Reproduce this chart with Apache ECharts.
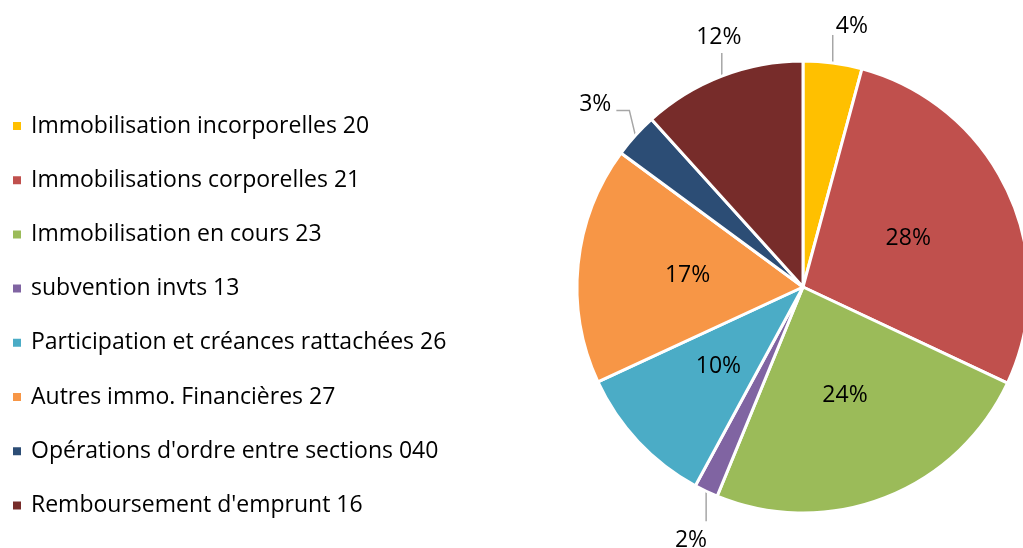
<!DOCTYPE html>
<html>
<head>
<meta charset="utf-8">
<script src="https://cdn.jsdelivr.net/npm/echarts@6/dist/echarts.min.js"></script>
<style>
  html, body { margin: 0; padding: 0; background: #fff; }
  #chart { width: 1023px; height: 548px; }
</style>
</head>
<body>
<div id="chart"></div>
<script>
  // categories and share of each
  const categories = [
    'Immobilisation incorporelles 20',
    'Immobilisations corporelles 21',
    'Immobilisation en cours 23',
    'subvention invts 13',
    'Participation et créances rattachées 26',
    'Autres immo. Financières 27',
    "Opérations d'ordre entre sections 040",
    "Remboursement d'emprunt 16"
  ];
  const values = [4.2, 27.8, 24.2, 1.7, 10.2, 17.0, 3.2, 11.7];
  const colors = ['#FFC000', '#C0504D', '#9BBB59', '#8064A2', '#4BACC6', '#F79646', '#2C4D75', '#772C2A'];
  // which slices get their label outside with a leader line
  const outsideLabels = [0, 3, 6, 7];

  const font = '"Open Sans", Lato, sans-serif';

  let myChart = echarts.init(document.getElementById('chart'));

  let data = categories.map((name, i) => {
    let outside = outsideLabels.indexOf(i) >= 0;
    return {
      name: name,
      value: values[i],
      itemStyle: { color: colors[i] },
      label: { position: outside ? 'outside' : 'inside' },
      labelLine: { show: outside }
    };
  });

  let option = {
    animation: false,
    legend: {
      orient: 'vertical',
      left: 6,
      top: 109,
      icon: 'rect',
      itemWidth: 10,
      itemHeight: 10,
      itemGap: 30.2,
      selectedMode: false,
      textStyle: {
        fontFamily: font,
        fontSize: 23,
        color: '#000',
        lineHeight: 24,
        padding: [0, 0, 0, 4]
      },
      data: categories
    },
    series: [{
      type: 'pie',
      center: [803, 287],
      radius: 226,
      startAngle: 90,
      clockwise: true,
      percentPrecision: 0,
      avoidLabelOverlap: false,
      itemStyle: { borderColor: '#fff', borderWidth: 3 },
      label: {
        formatter: '{d}%',
        fontFamily: font,
        fontSize: 23,
        color: '#000'
      },
      labelLine: {
        lineStyle: { color: '#A6A6A6', width: 1.5 }
      },
      labelLayout: function (params) {
        let i = params.dataIndex;
        if (outsideLabels.indexOf(i) < 0 || !params.labelLinePoints) return {};
        let p = params.labelLinePoints[0];
        let x = p[0], y = p[1];
        if (i === 0) {
          return {
            x: x + 3, y: y - 25, align: 'left', verticalAlign: 'bottom',
            labelLinePoints: [[x, y], [x, y - 28], [x, y - 28]]
          };
        }
        if (i === 7) {
          return {
            x: x - 3, y: y - 27, align: 'center', verticalAlign: 'bottom',
            labelLinePoints: [[x, y], [x, y - 23], [x, y - 23]]
          };
        }
        if (i === 6) {
          return {
            x: x - 24, y: y - 31, align: 'right', verticalAlign: 'middle',
            labelLinePoints: [[x, y], [x - 6, y - 25], [x - 19, y - 25]]
          };
        }
        // small purple slice
        return {
          x: x + 1, y: y + 38, align: 'right', verticalAlign: 'top',
          labelLinePoints: [[x, y], [x, y + 30], [x, y + 30]]
        };
      },
      data: data
    }]
  };

  myChart.setOption(option);
  window.addEventListener('resize', () => { myChart.resize(); });
</script>
</body>
</html>
